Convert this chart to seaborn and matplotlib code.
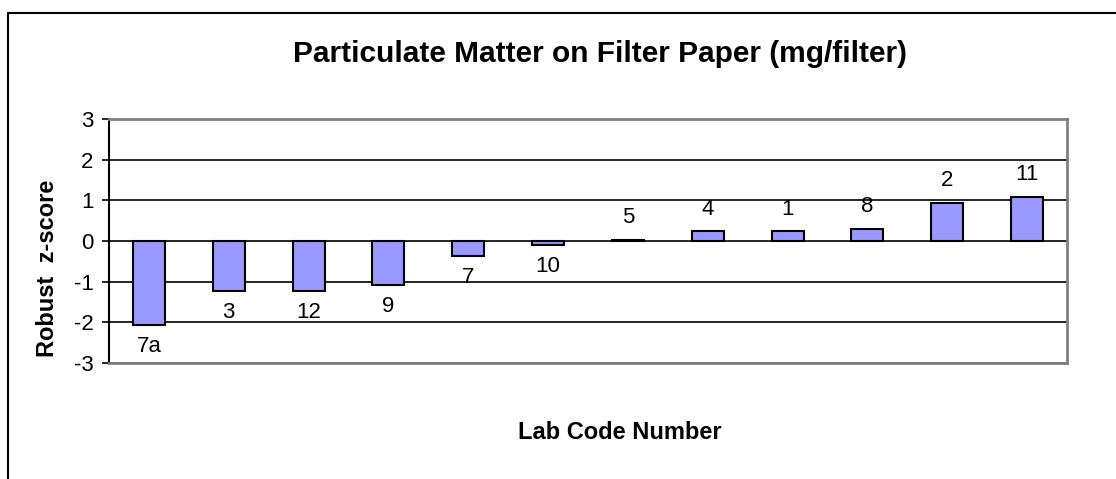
import matplotlib
matplotlib.use("Agg")
import matplotlib.pyplot as plt
import seaborn as sns
import pandas as pd
from matplotlib.patches import Rectangle

labs = ["7a", "3", "12", "9", "7", "10", "5", "4", "1", "8", "2", "11"]
zscores = [-2.06, -1.22, -1.22, -1.07, -0.36, -0.09, 0.02, 0.24, 0.24, 0.29, 0.94, 1.09]
yticks = [-3, -2, -1, 0, 1, 2, 3]

df = pd.DataFrame({"lab": labs, "z": zscores})

sns.set_theme(style="white")
plt.rcParams["font.family"] = ["Liberation Sans", "DejaVu Sans"]
plt.rcParams["text.color"] = "black"
plt.rcParams["ytick.color"] = "black"
plt.rcParams["ytick.labelcolor"] = "black"

W, H = 1116, 479
fig = plt.figure(figsize=(W / 100, H / 100), dpi=100)
x0, x1, y0, y1 = 109, 1067, 119, 363
ax = fig.add_axes([x0 / W, 1 - y1 / H, (x1 - x0) / W, (y1 - y0) / H])

sns.barplot(data=df, x="lab", y="z", order=labs, color="#9999FF", saturation=1,
            edgecolor="black", linewidth=1.5, width=0.4, ax=ax, zorder=3)

ax.set_ylim(-3, 3)
ax.set_xlim(-0.5, len(labs) - 0.5)
ax.set_yticks(yticks)
ax.set_yticklabels([str(t) for t in yticks], fontsize=16)
ax.tick_params(axis="y", direction="out", length=5, width=1.2, color="black", pad=6, left=True)
ax.tick_params(axis="x", bottom=False, labelbottom=False)
for t in yticks:
    ax.axhline(t, color="black", linewidth=1.2, zorder=1)

for s in ["top", "right", "bottom"]:
    ax.spines[s].set_color("#808080")
    ax.spines[s].set_linewidth(2)
ax.spines["left"].set_color("black")
ax.spines["left"].set_linewidth(1.5)

for i, (lab, v) in enumerate(zip(labs, zscores)):
    off = 16 if v >= 0 else -16
    ax.annotate(lab, (i, v), xytext=(0, off), textcoords="offset points",
                ha="center", va="center", fontsize=16, color="black")

ax.set_xlabel("")
ax.set_ylabel("")
fig.text(48 / W, 1 - 268 / H, "Robust  z-score", rotation=90, ha="center", va="center",
         fontsize=17, fontweight="bold")
fig.text(600 / W, 1 - 62 / H, "Particulate Matter on Filter Paper (mg/filter)",
         ha="center", va="baseline", fontsize=21.5, fontweight="bold")
fig.text(620 / W, 1 - 439 / H, "Lab Code Number", ha="center", va="baseline",
         fontsize=17, fontweight="bold")

fig.patches.append(Rectangle((8 / W, -0.1), 1.2, 1 - 13 / H + 0.1, transform=fig.transFigure,
                             fill=False, edgecolor="black", linewidth=1.5))

fig.savefig("out.png", dpi=100)
